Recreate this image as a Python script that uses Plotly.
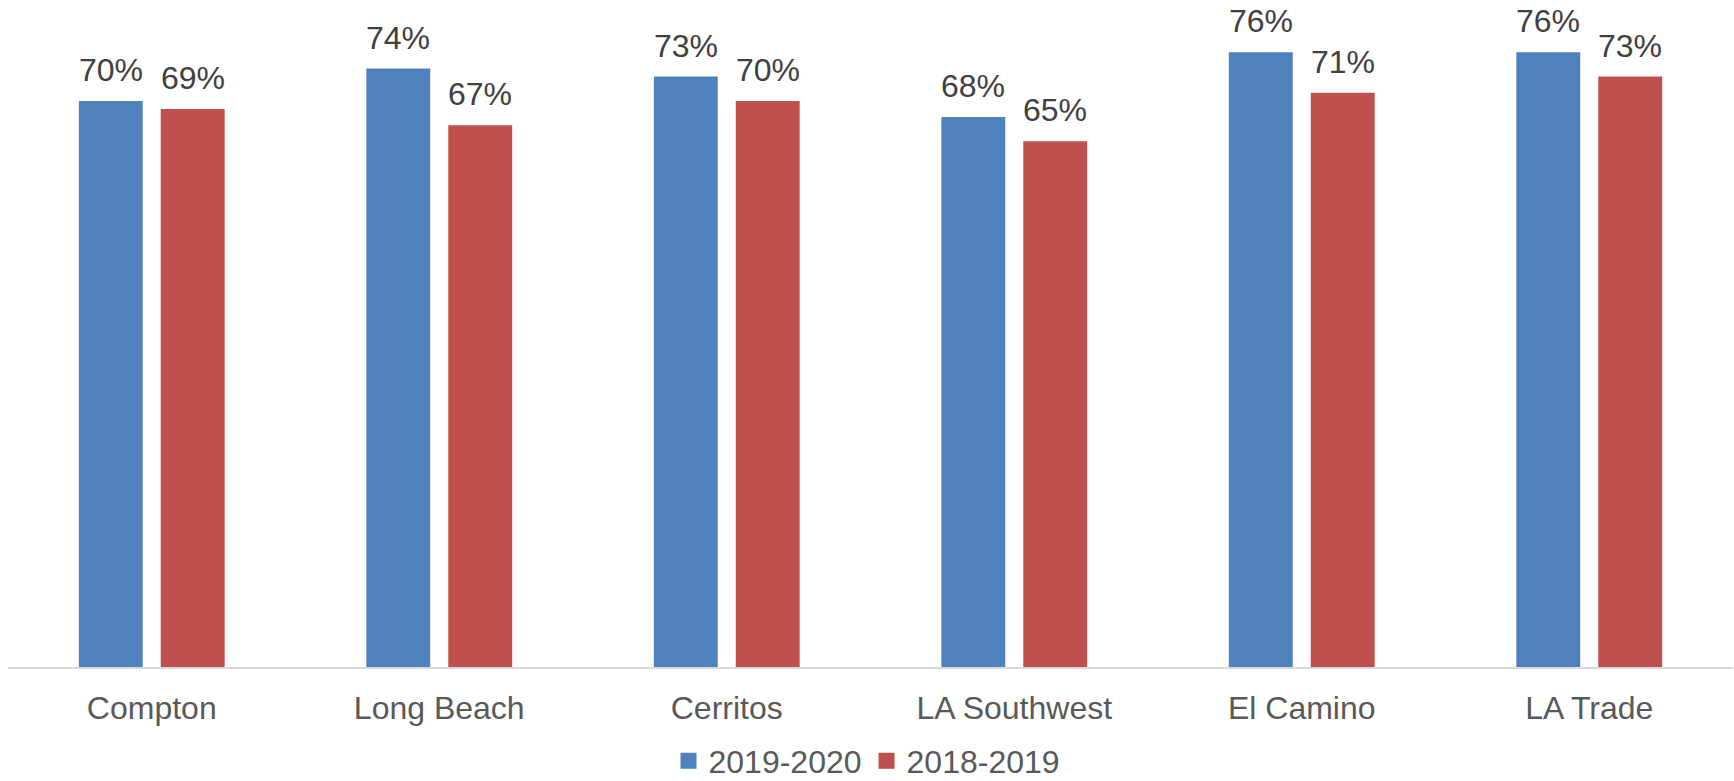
import plotly.graph_objects as go

categories = ["Compton", "Long Beach", "Cerritos", "LA Southwest", "El Camino", "LA Trade"]
series_names = ["2019-2020", "2018-2019"]
values_2019_2020 = [0.70, 0.74, 0.73, 0.68, 0.76, 0.76]
values_2018_2019 = [0.69, 0.67, 0.70, 0.65, 0.71, 0.73]
colors = ["#4F81BD", "#C0504D"]

FONT = "Liberation Sans, Arial, sans-serif"
FS = 32

fig = go.Figure()
series = [values_2019_2020, values_2018_2019]
for i, (name, vals, col) in enumerate(zip(series_names, series, colors)):
    fig.add_trace(go.Bar(
        x=categories, y=vals, name=name, showlegend=False,
        marker=dict(color=col, line=dict(width=0)),
        cliponaxis=False,
    ))
    fig.add_trace(go.Scatter(
        x=[None], y=[None], mode="markers", name=name,
        marker=dict(symbol="square", size=17, color=col),
    ))
    shift = -41 if i == 0 else 41
    for c, v in zip(categories, vals):
        fig.add_annotation(x=c, y=v, xref="x", yref="y", text=f"{round(v*100)}%",
                           showarrow=False, xanchor="center", yanchor="bottom",
                           xshift=shift, yshift=11,
                           font=dict(family=FONT, size=FS, color="#404040"))

fig.update_layout(
    width=1734, height=781,
    margin=dict(l=8, r=1, t=20, b=114, autoexpand=False),
    paper_bgcolor="white", plot_bgcolor="white",
    barmode="group", bargap=0.43, bargroupgap=0.22,
    font=dict(family=FONT, size=FS, color="#595959"),
    showlegend=True,
    legend=dict(orientation="h", x=0.5, xanchor="center", xref="container",
                y=20/781, yanchor="middle", yref="container",
                font=dict(family=FONT, size=FS, color="#595959"),
                itemsizing="trace", tracegroupgap=0),
    xaxis=dict(showline=True, linecolor="#D9D9D9", linewidth=2, ticks="",
               tickfont=dict(family=FONT, size=FS, color="#595959"),
               ticklabelstandoff=12, showgrid=False, zeroline=False, automargin=False),
    yaxis=dict(range=[0, 0.8], visible=False, showgrid=False, zeroline=False, automargin=False),
)

fig.write_html("out.html")
